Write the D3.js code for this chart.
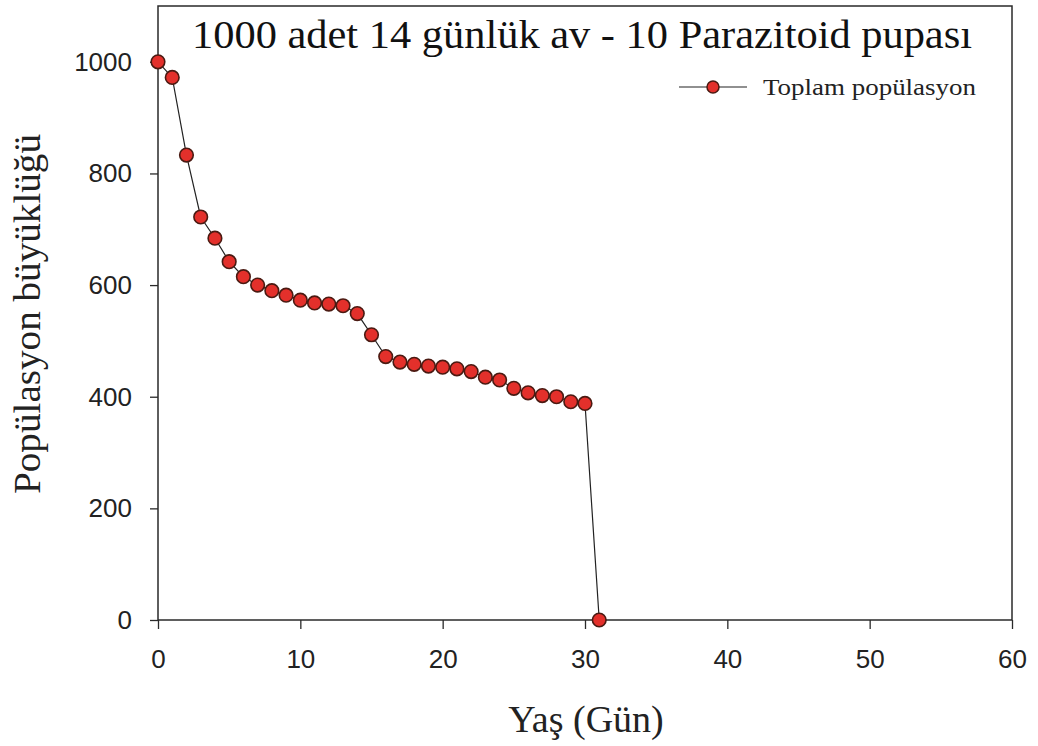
<!DOCTYPE html>
<html><head><meta charset="utf-8">
<script src="https://cdn.jsdelivr.net/npm/d3@7"></script>
<style>body{margin:0;background:#fff}svg{display:block}</style>
</head><body>
<svg id="c" width="1038" height="746"></svg>
<script>
const days = [0,1,2,3,4,5,6,7,8,9,10,11,12,13,14,15,16,17,18,19,20,21,22,23,24,25,26,27,28,29,30,31];
const population = [1000,972,833,722,684,642,615,600,590,582,573,568,566,563,549,511,472,462,458,455,453,450,445,435,430,415,407,402,400,391,388,0];
const xTicks = [0,10,20,30,40,50,60];
const yTicks = [0,200,400,600,800,1000];
const titleText = "1000 adet 14 günlük av - 10 Parazitoid pupası";
const seriesName = "Toplam popülasyon";
const xLabel = "Yaş (Gün)";
const yLabel = "Popülasyon büyüklüğü";

const svg = d3.select("#c");
const L=158,R=1012,T=6,B=620;
const x = d3.scaleLinear().domain([0,60]).range([L,R]);
const y = d3.scaleLinear().domain([0,1100]).range([B,T]);
const axisColor="#2a2a2a";
const serif="'Liberation Serif','Times New Roman',serif";
const sans="'Liberation Sans',Arial,sans-serif";

// frame
svg.append("rect").attr("x",L).attr("y",T).attr("width",R-L).attr("height",B-T)
  .attr("fill","none").attr("stroke",axisColor).attr("stroke-width",1.5);

// x axis
const xMinor = d3.range(0,61,2).filter(v=>v%10!==0);
const gx = svg.append("g").attr("transform",`translate(0,${B})`);
gx.call(d3.axisBottom(x).tickValues(xMinor).tickSize(5).tickFormat(""));
gx.call(d3.axisBottom(x).tickValues(xTicks).tickSize(9).tickPadding(21).tickFormat(d3.format("d")));
gx.select(".domain").remove();
gx.selectAll("line").attr("stroke",axisColor).attr("stroke-width",1.3);
gx.selectAll("text").attr("font-family",sans).attr("font-size",26).attr("fill","#222");

// y axis
const yMinor = d3.range(0,1101,40).filter(v=>v%200!==0);
const gy = svg.append("g").attr("transform",`translate(${L},0)`);
gy.call(d3.axisLeft(y).tickValues(yMinor).tickSize(4).tickFormat(""));
gy.call(d3.axisLeft(y).tickValues(yTicks).tickSize(8).tickPadding(18).tickFormat(d3.format("d")));
gy.select(".domain").remove();
gy.selectAll("line").attr("stroke",axisColor).attr("stroke-width",1.3);
gy.selectAll("text").attr("font-family",sans).attr("font-size",26).attr("fill","#222");

// line
const data = days.map((d,i)=>({d, v:population[i]}));
svg.append("path").datum(data)
  .attr("fill","none").attr("stroke","#222").attr("stroke-width",1.2)
  .attr("d", d3.line().x(p=>x(p.d)).y(p=>y(p.v)));
svg.append("g").selectAll("circle").data(data).join("circle")
  .attr("cx",p=>x(p.d)).attr("cy",p=>y(p.v)).attr("r",6.8)
  .attr("fill","#e3302b").attr("stroke","#4a1a12").attr("stroke-width",1.6);

// title
svg.append("text").attr("x",582).attr("y",48).attr("text-anchor","middle")
  .attr("font-family",serif).attr("font-size",41).attr("fill","#111")
  .attr("textLength",780).attr("lengthAdjust","spacingAndGlyphs").text(titleText);

// legend
const lg = svg.append("g");
lg.append("line").attr("x1",679).attr("x2",747).attr("y1",87).attr("y2",87).attr("stroke","#222").attr("stroke-width",1.2);
lg.append("circle").attr("cx",713).attr("cy",87).attr("r",6).attr("fill","#e3302b").attr("stroke","#4a1a12").attr("stroke-width",1.5);
lg.append("text").attr("x",763).attr("y",95).attr("font-family",serif).attr("font-size",23).attr("fill","#222")
  .attr("textLength",213).attr("lengthAdjust","spacingAndGlyphs").text(seriesName);

// axis labels
svg.append("text").attr("x",586).attr("y",732).attr("text-anchor","middle")
  .attr("font-family",serif).attr("font-size",38).attr("fill","#222").text(xLabel);
svg.append("text").attr("transform","translate(40,314) rotate(-90)").attr("text-anchor","middle")
  .attr("font-family",serif).attr("font-size",38).attr("fill","#222")
  .attr("textLength",360).attr("lengthAdjust","spacingAndGlyphs").text(yLabel);
</script>
</body></html>
